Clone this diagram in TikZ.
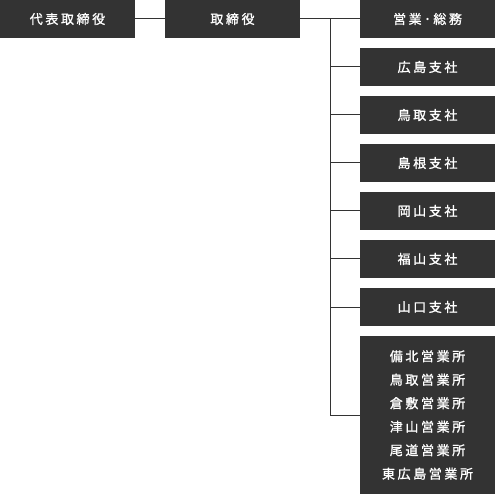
\documentclass[tikz,border=0pt]{standalone}
\usepackage{fontspec}
\newfontfamily\cjk[LetterSpace=20,FakeBold=1.2]{Noto Sans CJK JP}
\definecolor{boxgray}{HTML}{333333}
\definecolor{linegray}{HTML}{333333}
\begin{document}
\begin{tikzpicture}[x=1pt,y=-1pt,
  orgbox/.style={fill=boxgray,text=white,inner sep=0pt,minimum width=135pt,minimum height=38pt,font=\cjk\fontsize{13pt}{23.5pt}\selectfont,align=center},
  conn/.style={draw=linegray,line width=1pt}]
\useasboundingbox (0,0) rectangle (495,494);
\node[orgbox] (ceo) at (67.5,19) {代表取締役};
\node[orgbox] (dir) at (232.5,19) {取締役};
\node[orgbox] (b0) at (427.5,19) {営業･総務};
\node[orgbox] (b1) at (427.5,67) {広島支社};
\node[orgbox] (b2) at (427.5,115) {鳥取支社};
\node[orgbox] (b3) at (427.5,163) {島根支社};
\node[orgbox] (b4) at (427.5,211) {岡山支社};
\node[orgbox] (b5) at (427.5,259) {福山支社};
\node[orgbox] (b6) at (427.5,307) {山口支社};
\node[orgbox,minimum height=158pt] (b7) at (427.5,415) {備北営業所\\鳥取営業所\\倉敷営業所\\津山営業所\\尾道営業所\\東広島営業所};
\coordinate (trunk) at (330,19);
\coordinate (tend) at (330,415);
\draw[conn] (ceo.east) -- (dir.west);
\draw[conn] (dir.east) -- (b0.west);
\draw[conn] (trunk) -- (tend) -- (b7.west);
\foreach \i in {1,...,6} {\draw[conn] (b\i.west) -- (b\i.west -| trunk);}
\end{tikzpicture}
\end{document}
